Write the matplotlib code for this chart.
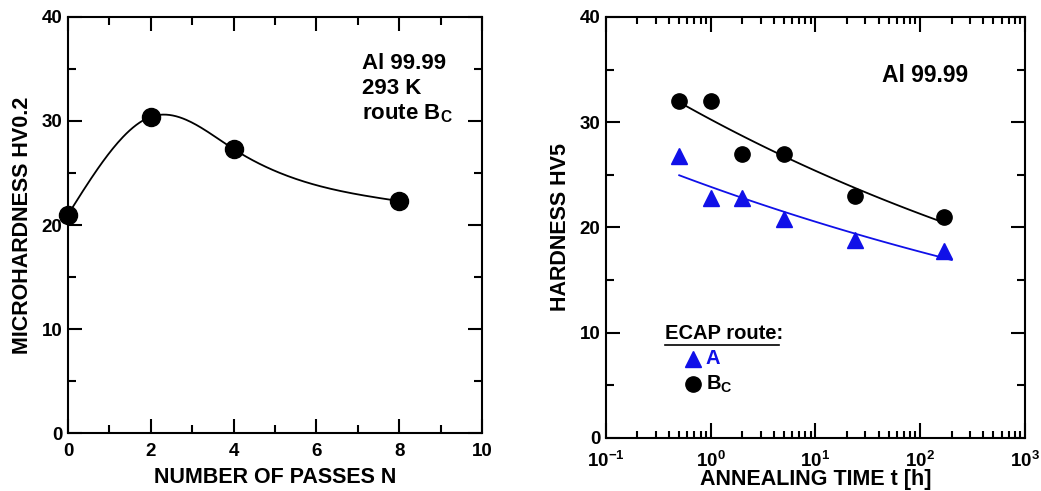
import numpy as np
import matplotlib
matplotlib.use("Agg")
import matplotlib.pyplot as plt
from matplotlib.ticker import MultipleLocator, LogLocator, FuncFormatter, NullFormatter

plt.rcParams['font.family'] = ['Liberation Sans', 'DejaVu Sans']
plt.rcParams['font.weight'] = 'bold'
plt.rcParams['mathtext.fontset'] = 'custom'
plt.rcParams['mathtext.rm'] = 'Liberation Sans:bold'
plt.rcParams['mathtext.bf'] = 'Liberation Sans:bold'
plt.rcParams['mathtext.it'] = 'Liberation Sans:bold'
plt.rcParams['mathtext.default'] = 'rm'

# left panel: microhardness vs number of ECAP passes
passes = np.array([0, 2, 4, 8])
micro_hv = np.array([21.0, 30.4, 27.3, 22.3])

# right panel: hardness vs annealing time
anneal_t = np.array([0.5, 1, 2, 5, 24, 168])
hv_route_a = np.array([26.8, 22.8, 22.8, 20.8, 18.8, 17.8])
hv_route_bc = np.array([32.0, 32.0, 27.0, 27.0, 23.0, 21.0])
fit_range_a = (0.5, 200)
fit_range_bc = (0.5, 168)

BLUE = '#1010e8'


def natural_spline(x, y, xs):
    n = len(x)
    h = np.diff(x)
    A = np.zeros((n, n))
    b = np.zeros(n)
    A[0, 0] = 1
    A[-1, -1] = 1
    for i in range(1, n - 1):
        A[i, i - 1] = h[i - 1]
        A[i, i] = 2 * (h[i - 1] + h[i])
        A[i, i + 1] = h[i]
        b[i] = 3 * ((y[i + 1] - y[i]) / h[i] - (y[i] - y[i - 1]) / h[i - 1])
    c = np.linalg.solve(A, b)
    out = np.empty_like(xs)
    for k, xv in enumerate(xs):
        i = min(np.searchsorted(x, xv, side='right') - 1, n - 2)
        dx = xv - x[i]
        bi = (y[i + 1] - y[i]) / h[i] - h[i] * (2 * c[i] + c[i + 1]) / 3
        di = (c[i + 1] - c[i]) / (3 * h[i])
        out[k] = y[i] + bi * dx + c[i] * dx ** 2 + di * dx ** 3
    return out


def power_fit(t, hv, t0, t1):
    # straight line in log-log, as the fitted curves in the original
    p = np.polyfit(np.log(t), np.log(hv), 1)
    tt = np.logspace(np.log10(t0), np.log10(t1), 100)
    return tt, np.exp(np.polyval(p, np.log(tt)))


def style_ticks(ax):
    ax.tick_params(which='both', direction='in', top=True, right=True,
                   width=1.5, labelsize=13.5)
    ax.tick_params(which='major', length=10)
    ax.tick_params(which='minor', length=5.5)
    for s in ax.spines.values():
        s.set_linewidth(1.5)


fig = plt.figure(figsize=(10.41, 4.91), dpi=100)

# ---- left panel
ax1 = fig.add_axes([0.0653, 0.1181, 0.3977, 0.8473])
xs = np.linspace(0, 8, 200)
ax1.plot(xs, natural_spline(passes.astype(float), micro_hv, xs), color='black', lw=1.3)
ax1.plot(passes, micro_hv, 'o', color='black', ms=13, clip_on=False)
ax1.set_xlim(0, 10)
ax1.set_ylim(0, 40)
ax1.xaxis.set_major_locator(MultipleLocator(2))
ax1.xaxis.set_minor_locator(MultipleLocator(1))
ax1.yaxis.set_major_locator(MultipleLocator(10))
ax1.yaxis.set_minor_locator(MultipleLocator(5))
style_ticks(ax1)
ax1.tick_params(axis='x', which='both', pad=7)
ax1.tick_params(axis='y', which='both', pad=4)
ax1.set_xlabel('NUMBER OF PASSES N', fontsize=15.5, fontweight='bold', labelpad=5)
ax1.set_ylabel('MICROHARDNESS HV0.2', fontsize=15.5, fontweight='bold', labelpad=6)
ax1.text(7.1, 36.5, 'Al 99.99\n293 K\nroute B$_{\\mathrm{C}}$', fontsize=16,
         fontweight='bold', va='top', ha='left', linespacing=1.2)

# ---- right panel
ax2 = fig.add_axes([0.5821, 0.108, 0.4025, 0.8574])
ta, fa = power_fit(anneal_t, hv_route_a, *fit_range_a)
tb, fb = power_fit(anneal_t, hv_route_bc, *fit_range_bc)
ax2.plot(tb, fb, color='black', lw=1.3)
ax2.plot(ta, fa, color=BLUE, lw=1.3)
ax2.plot(anneal_t, hv_route_bc, 'o', color='black', ms=11)
ax2.plot(anneal_t, hv_route_a, '^', color=BLUE, ms=11)
ax2.set_xscale('log')
ax2.set_xlim(0.1, 1000)
ax2.set_ylim(0, 40)
ax2.xaxis.set_major_locator(LogLocator(base=10, numticks=10))
ax2.xaxis.set_minor_locator(LogLocator(base=10, subs=np.arange(2, 10), numticks=10))
ax2.xaxis.set_minor_formatter(NullFormatter())
ax2.xaxis.set_major_formatter(FuncFormatter(lambda v, p: '$\\mathrm{10^{%d}}$' % round(np.log10(v))))
ax2.yaxis.set_major_locator(MultipleLocator(10))
ax2.yaxis.set_minor_locator(MultipleLocator(5))
style_ticks(ax2)
ax2.tick_params(axis='x', which='major', length=11, pad=9)
ax2.tick_params(axis='x', which='minor', length=5)
ax2.tick_params(axis='y', which='both', pad=4)
ax2.set_xlabel('ANNEALING TIME t [h]', fontsize=15.5, fontweight='bold', labelpad=-1)
ax2.set_ylabel('HARDNESS HV5', fontsize=15.5, fontweight='bold', labelpad=6)
ax2.text(43, 34.4, 'Al 99.99', fontsize=16.5, fontweight='bold', va='center', ha='left')

# legend drawn by hand
tr = ax2.transAxes
ax2.text(0.141, 0.247, 'ECAP route:', transform=tr, fontsize=14.5, fontweight='bold',
         va='center', ha='left')
ax2.plot([0.141, 0.413], [0.221, 0.221], transform=tr, color='black', lw=1.2)
ax2.plot([0.208], [0.188], '^', transform=tr, color=BLUE, ms=11)
ax2.text(0.238, 0.188, 'A', transform=tr, fontsize=14.5, fontweight='bold',
         color=BLUE, va='center', ha='left')
ax2.plot([0.208], [0.128], 'o', transform=tr, color='black', ms=11)
ax2.text(0.238, 0.128, 'B$_{\\mathrm{C}}$', transform=tr, fontsize=14.5, fontweight='bold',
         va='center', ha='left')

fig.savefig('out.png', dpi=100)
